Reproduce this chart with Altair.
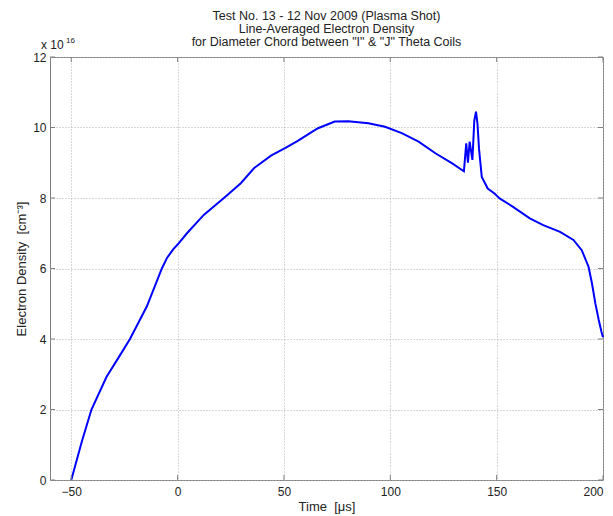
import altair as alt
import pandas as pd

times = [-50, -45, -40.5, -33.4, -28, -22.4, -14.5, -7.4, -5, -2, 0, 4.4, 12.3,
         22.6, 29.7, 36, 43.9, 50.7, 56.5, 62.8, 66, 73.9, 80.2, 89.7, 97.5,
         105.4, 113.3, 121.2, 129.1, 134.6, 135.7, 136.5, 137.3, 138.6, 139.5,
         140.3, 141.0, 141.7, 143, 145.8, 149, 151.4, 157.7, 165.6, 171.9,
         179.8, 186.1, 190, 193.2, 194.8, 196.4, 198, 199.3, 200]
density = [0.0, 1.1, 2.0, 2.93, 3.45, 4.0, 4.92, 6.0, 6.3, 6.55, 6.68, 7.0, 7.52,
           8.04, 8.42, 8.85, 9.2, 9.42, 9.62, 9.86, 9.98, 10.17, 10.18, 10.12, 10.02,
           9.84, 9.6, 9.27, 8.98, 8.76, 9.55, 9.0, 9.6, 9.08, 10.2,
           10.45, 10.1, 9.4, 8.6, 8.27, 8.13, 7.99, 7.75, 7.42, 7.23,
           7.04, 6.81, 6.52, 6.05, 5.58, 5.01, 4.54, 4.2, 4.05]

x_ticks = [-50, 0, 50, 100, 150, 200]
y_ticks = [0, 2, 4, 6, 8, 10, 12]

title_lines = ["Test No. 13 - 12 Nov 2009 (Plasma Shot)",
               "Line-Averaged Electron Density",
               "for Diameter Chord between \"I\" & \"J\" Theta Coils"]

W, H = 553, 423
FONT = "Liberation Sans"

df = pd.DataFrame({"t": times, "n": density})
xt = pd.DataFrame({"t": x_ticks})
yt = pd.DataFrame({"v": y_ticks})

xscale = alt.Scale(domain=[-60, 200], nice=False, zero=False)
yscale = alt.Scale(domain=[0, 12], nice=False)

line = alt.Chart(df).mark_line(color="#0000FF", strokeWidth=2).encode(
    x=alt.X("t:Q", scale=xscale,
            axis=alt.Axis(values=x_ticks, title="Time \u00a0[\u03bcs]", ticks=False,
                          labelPadding=6, labelFontSize=12, labelColor="#222",
                          labelFont=FONT, titleFont=FONT, titleFontSize=13,
                          titleFontWeight="normal", titleColor="#222", titlePadding=3,
                          grid=True, gridDash=[1, 2], gridColor="#b0b0b0",
                          domainColor="#808080")),
    y=alt.Y("n:Q", scale=yscale,
            axis=alt.Axis(values=y_ticks,
                          title="Electron Density \u00a0[cm\u207b\u00b3]",
                          ticks=False, labelPadding=4, labelFontSize=12,
                          labelColor="#222", labelFont=FONT, titleFont=FONT,
                          titleFontSize=13, titleFontWeight="normal", titleColor="#222",
                          titlePadding=4, grid=True, gridDash=[1, 2],
                          gridColor="#b0b0b0", domainColor="#808080")),
)

tick_col = "#808080"
bt = alt.Chart(xt).mark_rule(color=tick_col).encode(
    x=alt.X("t:Q", scale=xscale), y=alt.value(H), y2=alt.value(H - 5))
tt = alt.Chart(xt).mark_rule(color=tick_col).encode(
    x=alt.X("t:Q", scale=xscale), y=alt.value(0), y2=alt.value(5))
lt = alt.Chart(yt).mark_rule(color=tick_col).encode(
    y=alt.Y("v:Q", scale=yscale), x=alt.value(0), x2=alt.value(5))
rt = alt.Chart(yt).mark_rule(color=tick_col).encode(
    y=alt.Y("v:Q", scale=yscale), x=alt.value(W), x2=alt.value(W - 5))

exp_base = alt.Chart(pd.DataFrame({"s": ["x 10"]})).mark_text(
    align="left", baseline="alphabetic", fontSize=12, font=FONT, color="#222").encode(
    text="s:N", x=alt.value(-9), y=alt.value(-8))
exp_sup = alt.Chart(pd.DataFrame({"s": ["16"]})).mark_text(
    align="left", baseline="alphabetic", fontSize=8, font=FONT, color="#222").encode(
    text="s:N", x=alt.value(16), y=alt.value(-14))

chart = alt.layer(line, bt, tt, lt, rt, exp_base, exp_sup).properties(
    width=W, height=H,
    autosize="none",
    padding={"left": 42, "top": 49, "right": 2, "bottom": 36},
    title=alt.Title(title_lines, fontSize=12.5, font=FONT, fontWeight="normal",
                    color="#222", lineHeight=13, anchor="middle", offset=-11),
).configure_view(stroke="#808080", strokeWidth=1).configure_axis(domain=False)

chart.save("out.html", embed_options={"renderer": "svg", "actions": False})
